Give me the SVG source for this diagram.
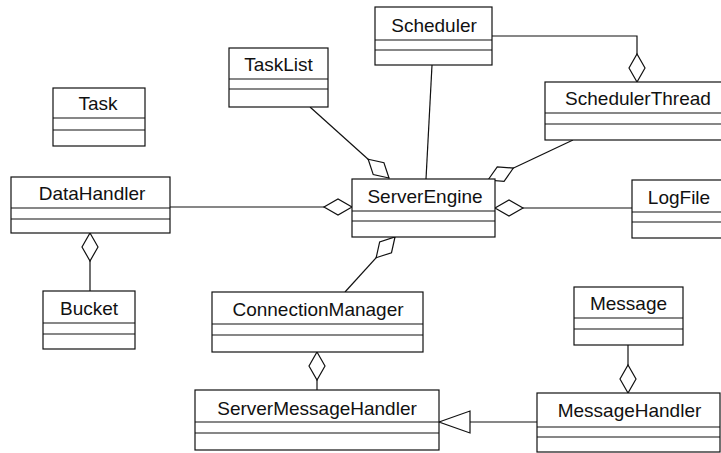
<svg xmlns="http://www.w3.org/2000/svg" width="721" height="453" viewBox="0 0 721 453">
<style>
.box{fill:#fff;stroke:#111;stroke-width:1.2}
.div{stroke:#111;stroke-width:1.2}
.t{font-family:"Liberation Sans",Arial,sans-serif;font-size:19px;fill:#111;text-anchor:middle}
.c{fill:none;stroke:#111;stroke-width:1.2}
</style>
<defs>
<marker id="dia" markerUnits="userSpaceOnUse" orient="auto" refX="0" refY="8" markerWidth="30" markerHeight="16" viewBox="0 0 30 16" overflow="visible">
<path d="M0,8 L14,0 L28,8 L14,16 Z" fill="#fff" stroke="#111" stroke-width="1.2"/>
</marker>
<marker id="tri" markerUnits="userSpaceOnUse" orient="auto" refX="0" refY="12" markerWidth="33" markerHeight="24" viewBox="0 0 33 24" overflow="visible">
<path d="M0,12 L31,1 L31,23 Z" fill="#fff" stroke="#111" stroke-width="1.2"/>
</marker>
</defs>
<rect width="721" height="453" fill="#fff"/>
<g id="connectors">
<path class="c" d="M352,207 L170,207" marker-start="url(#dia)"/>
<path class="c" d="M495,208 L632,208" marker-start="url(#dia)"/>
<path class="c" d="M389,178 L310,107" marker-start="url(#dia)"/>
<path class="c" d="M432,65 L426,179"/>
<path class="c" d="M488,180 L573,140" marker-start="url(#dia)"/>
<path class="c" d="M637,82 L637,36 L492,36" marker-start="url(#dia)"/>
<path class="c" d="M395,237 L345,292" marker-start="url(#dia)"/>
<path class="c" d="M90,233 L90,291" marker-start="url(#dia)"/>
<path class="c" d="M317,352 L317,390" marker-start="url(#dia)"/>
<path class="c" d="M628,393 L628,345" marker-start="url(#dia)"/>
<path class="c" d="M439,422 L537,422" marker-start="url(#tri)"/>
</g>
<g id="Task"><rect class="box" x="53" y="88" width="92" height="58"/><line class="div" x1="53" y1="118" x2="145" y2="118"/><line class="div" x1="53" y1="130" x2="145" y2="130"/><text class="t" x="98" y="110">Task</text></g>
<g id="TaskList"><rect class="box" x="229" y="48" width="99" height="59"/><line class="div" x1="229" y1="79" x2="328" y2="79"/><line class="div" x1="229" y1="89" x2="328" y2="89"/><text class="t" x="278.5" y="71">TaskList</text></g>
<g id="Scheduler"><rect class="box" x="375" y="7" width="117" height="58"/><line class="div" x1="375" y1="40" x2="492" y2="40"/><line class="div" x1="375" y1="50" x2="492" y2="50"/><text class="t" x="434" y="32">Scheduler</text></g>
<g id="SchedulerThread"><rect class="box" x="545" y="82" width="185" height="58"/><line class="div" x1="545" y1="113" x2="730" y2="113"/><line class="div" x1="545" y1="124" x2="730" y2="124"/><text class="t" x="638" y="105">SchedulerThread</text></g>
<g id="DataHandler"><rect class="box" x="11" y="177" width="159" height="56"/><line class="div" x1="11" y1="208" x2="170" y2="208"/><line class="div" x1="11" y1="219" x2="170" y2="219"/><text class="t" x="92" y="200">DataHandler</text></g>
<g id="ServerEngine"><rect class="box" x="352" y="179" width="143" height="58"/><line class="div" x1="352" y1="211" x2="495" y2="211"/><line class="div" x1="352" y1="221" x2="495" y2="221"/><text class="t" x="425" y="203">ServerEngine</text></g>
<g id="LogFile"><rect class="box" x="632" y="180" width="94" height="58"/><line class="div" x1="632" y1="212" x2="726" y2="212"/><line class="div" x1="632" y1="222" x2="726" y2="222"/><text class="t" x="679" y="204">LogFile</text></g>
<g id="Bucket"><rect class="box" x="43" y="291" width="92" height="58"/><line class="div" x1="43" y1="323" x2="135" y2="323"/><line class="div" x1="43" y1="334" x2="135" y2="334"/><text class="t" x="89" y="315">Bucket</text></g>
<g id="ConnectionManager"><rect class="box" x="212" y="292" width="211" height="60"/><line class="div" x1="212" y1="324" x2="423" y2="324"/><line class="div" x1="212" y1="335" x2="423" y2="335"/><text class="t" x="318" y="316">ConnectionManager</text></g>
<g id="Message"><rect class="box" x="574" y="287" width="109" height="58"/><line class="div" x1="574" y1="318" x2="683" y2="318"/><line class="div" x1="574" y1="329" x2="683" y2="329"/><text class="t" x="628.5" y="310">Message</text></g>
<g id="ServerMessageHandler"><rect class="box" x="195" y="390" width="244" height="60"/><line class="div" x1="195" y1="422" x2="439" y2="422"/><line class="div" x1="195" y1="433" x2="439" y2="433"/><text class="t" x="317" y="415">ServerMessageHandler</text></g>
<g id="MessageHandler"><rect class="box" x="537" y="393" width="183" height="59"/><line class="div" x1="537" y1="427" x2="720" y2="427"/><line class="div" x1="537" y1="437" x2="720" y2="437"/><text class="t" x="629.5" y="417">MessageHandler</text></g>
</svg>
